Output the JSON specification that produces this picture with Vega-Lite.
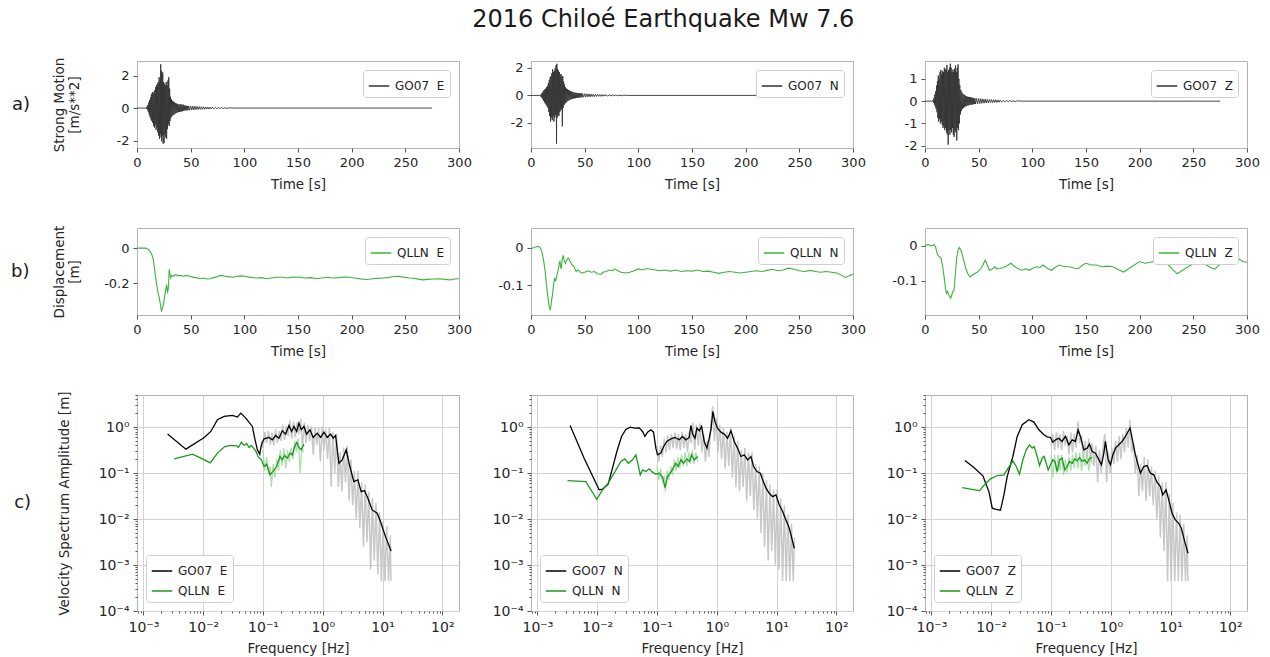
{
"$schema":"https://vega.github.io/schema/vega-lite/v6.json",
"background":"white",
"padding":{"left":10,"top":7,"right":10,"bottom":4},
"title":{"text":"2016 Chiloé Earthquake Mw 7.6","fontSize":24,"fontWeight":"normal","font":"DejaVu Sans","color":"#1a1a1a","anchor":"middle","offset":25,"dx":28},
"config":{
"font":"DejaVu Sans",
"view":{"stroke":"#b3b3b3","strokeWidth":1},
"axis":{"labelFont":"DejaVu Sans","labelFontSize":13,"labelColor":"#262626","titleFont":"DejaVu Sans","titleFontSize":13.5,"titleFontWeight":"normal","titleColor":"#262626","domain":false,"tickColor":"#555555","tickSize":4,"grid":false,"labelPadding":4,"titlePadding":8,"labelFlush":false,"labelOverlap":false},
"legend":{"symbolType":"stroke","symbolSize":420,"symbolStrokeWidth":1.5,"labelFontSize":12,"labelFont":"DejaVu Sans","labelColor":"#222222","fillColor":"white","strokeColor":"#d0d0d0","cornerRadius":3,"padding":5,"labelOffset":5,"rowPadding":3}
},
"datasets":{
"a1":[{"t":0,"v":0},{"t":8,"v":0},{"t":8.6,"v":0.02},{"t":9,"v":-0.05},{"t":9.4,"v":0.1},{"t":9.8,"v":-0.12},{"t":10.2,"v":0.2},{"t":10.6,"v":-0.25},{"t":11,"v":0.35},{"t":11.4,"v":-0.4},{"t":11.8,"v":0.5},{"t":12.2,"v":-0.55},{"t":12.6,"v":0.65},{"t":13,"v":-0.7},{"t":13.4,"v":0.85},{"t":13.8,"v":-0.8},{"t":14.2,"v":0.95},{"t":14.6,"v":-0.9},{"t":15,"v":1.0},{"t":15.4,"v":-1.1},{"t":15.8,"v":0.9},{"t":16.2,"v":-1.2},{"t":16.6,"v":1.1},{"t":17,"v":-1.0},{"t":17.4,"v":1.3},{"t":17.8,"v":-1.35},{"t":18.2,"v":1.4},{"t":18.6,"v":-1.2},{"t":19,"v":1.5},{"t":19.4,"v":-1.5},{"t":19.8,"v":1.6},{"t":20.2,"v":-1.7},{"t":20.6,"v":1.9},{"t":21,"v":-1.9},{"t":21.4,"v":1.7},{"t":21.8,"v":-1.6},{"t":22.1,"v":2.7},{"t":22.4,"v":-1.8},{"t":22.7,"v":2.3},{"t":23,"v":-2.05},{"t":23.3,"v":2.0},{"t":23.6,"v":-1.7},{"t":24,"v":2.2},{"t":24.4,"v":-2.2},{"t":24.8,"v":1.6},{"t":25.2,"v":-2.15},{"t":25.6,"v":1.5},{"t":26,"v":-1.6},{"t":26.4,"v":1.4},{"t":26.8,"v":-1.8},{"t":27.2,"v":1.6},{"t":27.6,"v":-1.9},{"t":28,"v":1.4},{"t":28.4,"v":-1.3},{"t":28.8,"v":1.7},{"t":29.2,"v":-1.0},{"t":29.6,"v":1.9},{"t":30,"v":-1.1},{"t":30.4,"v":1.2},{"t":30.8,"v":-0.8},{"t":31.2,"v":0.7},{"t":31.6,"v":-0.6},{"t":32,"v":0.55},{"t":32.5,"v":-0.5},{"t":33,"v":0.45},{"t":33.5,"v":-0.45},{"t":34,"v":0.4},{"t":34.5,"v":-0.4},{"t":35,"v":0.35},{"t":35.5,"v":-0.35},{"t":36,"v":0.3},{"t":36.5,"v":-0.3},{"t":37,"v":0.28},{"t":37.5,"v":-0.28},{"t":38,"v":0.25},{"t":38.5,"v":-0.25},{"t":39,"v":0.22},{"t":39.5,"v":-0.24},{"t":40,"v":0.22},{"t":40.5,"v":-0.22},{"t":41,"v":0.25},{"t":41.5,"v":-0.2},{"t":42,"v":0.18},{"t":42.5,"v":-0.2},{"t":43,"v":0.22},{"t":43.5,"v":-0.16},{"t":44,"v":0.16},{"t":44.5,"v":-0.15},{"t":45,"v":0.15},{"t":45.5,"v":-0.14},{"t":46,"v":0.14},{"t":46.5,"v":-0.14},{"t":47,"v":0.13},{"t":47.5,"v":-0.13},{"t":48,"v":0.13},{"t":49,"v":-0.13},{"t":50,"v":0.13},{"t":51,"v":-0.12},{"t":52,"v":0.12},{"t":53,"v":-0.11},{"t":54,"v":0.11},{"t":55,"v":-0.1},{"t":56,"v":0.1},{"t":57,"v":-0.09},{"t":58,"v":0.09},{"t":59,"v":-0.085},{"t":60,"v":0.08},{"t":61,"v":-0.075},{"t":62,"v":0.075},{"t":63,"v":-0.07},{"t":64,"v":0.07},{"t":65,"v":-0.065},{"t":66,"v":0.06},{"t":67,"v":-0.06},{"t":68,"v":0.055},{"t":69,"v":-0.05},{"t":70,"v":0.05},{"t":71.5,"v":-0.045},{"t":73,"v":0.04},{"t":74.5,"v":-0.04},{"t":76,"v":0.035},{"t":77.5,"v":-0.03},{"t":79,"v":0.03},{"t":80.5,"v":-0.025},{"t":82,"v":0.02},{"t":84,"v":-0.02},{"t":86,"v":0.015},{"t":90,"v":0},{"t":275,"v":0}],
"a2":[{"t":0,"v":0},{"t":8,"v":0},{"t":8.6,"v":-0.02},{"t":9,"v":0.05},{"t":9.4,"v":-0.1},{"t":9.8,"v":0.12},{"t":10.2,"v":-0.18},{"t":10.6,"v":0.2},{"t":11,"v":-0.28},{"t":11.4,"v":0.3},{"t":11.8,"v":-0.4},{"t":12.2,"v":0.38},{"t":12.6,"v":-0.5},{"t":13,"v":0.45},{"t":13.4,"v":-0.6},{"t":13.8,"v":0.5},{"t":14.2,"v":-0.7},{"t":14.6,"v":0.6},{"t":15,"v":-0.8},{"t":15.4,"v":0.7},{"t":15.8,"v":-0.9},{"t":16.2,"v":0.9},{"t":16.6,"v":-1.2},{"t":17,"v":1.1},{"t":17.4,"v":-1.5},{"t":17.8,"v":1.3},{"t":18.2,"v":-1.9},{"t":18.6,"v":1.4},{"t":19,"v":-1.6},{"t":19.4,"v":1.6},{"t":19.8,"v":-1.8},{"t":20.2,"v":1.9},{"t":20.6,"v":-1.5},{"t":21,"v":1.7},{"t":21.4,"v":-1.9},{"t":21.8,"v":1.8},{"t":22.2,"v":-1.6},{"t":22.6,"v":2.0},{"t":23,"v":-1.4},{"t":23.4,"v":2.2},{"t":23.8,"v":-3.5},{"t":24.1,"v":2.3},{"t":24.4,"v":-1.6},{"t":24.8,"v":1.9},{"t":25.2,"v":-1.4},{"t":25.6,"v":1.8},{"t":26,"v":-1.5},{"t":26.4,"v":1.7},{"t":26.8,"v":-1.2},{"t":27.2,"v":1.5},{"t":27.6,"v":-1.1},{"t":28,"v":1.55},{"t":28.4,"v":-1.0},{"t":28.8,"v":1.3},{"t":29.2,"v":-2.25},{"t":29.6,"v":1.4},{"t":30,"v":-0.9},{"t":30.4,"v":1.0},{"t":30.8,"v":-0.7},{"t":31.2,"v":0.8},{"t":31.6,"v":-0.6},{"t":32,"v":0.6},{"t":32.5,"v":-0.55},{"t":33,"v":0.5},{"t":33.5,"v":-0.45},{"t":34,"v":0.45},{"t":34.5,"v":-0.4},{"t":35,"v":0.4},{"t":35.5,"v":-0.35},{"t":36,"v":0.35},{"t":36.5,"v":-0.3},{"t":37,"v":0.3},{"t":37.5,"v":-0.28},{"t":38,"v":0.28},{"t":38.5,"v":-0.25},{"t":39,"v":0.25},{"t":39.5,"v":-0.22},{"t":40,"v":0.22},{"t":40.5,"v":-0.21},{"t":41,"v":0.2},{"t":41.5,"v":-0.2},{"t":42,"v":0.19},{"t":42.5,"v":-0.18},{"t":43,"v":0.18},{"t":43.5,"v":-0.17},{"t":44,"v":0.17},{"t":44.5,"v":-0.16},{"t":45,"v":0.16},{"t":45.5,"v":-0.15},{"t":46,"v":0.15},{"t":46.5,"v":-0.14},{"t":47,"v":0.14},{"t":47.5,"v":-0.14},{"t":48,"v":0.13},{"t":49,"v":-0.13},{"t":50,"v":0.13},{"t":51,"v":-0.12},{"t":52,"v":0.12},{"t":53,"v":-0.11},{"t":54,"v":0.11},{"t":55,"v":-0.1},{"t":56,"v":0.1},{"t":57,"v":-0.09},{"t":58,"v":0.09},{"t":59,"v":-0.085},{"t":60,"v":0.08},{"t":61,"v":-0.075},{"t":62,"v":0.075},{"t":63,"v":-0.07},{"t":64,"v":0.07},{"t":65,"v":-0.065},{"t":66,"v":0.06},{"t":67,"v":-0.06},{"t":68,"v":0.055},{"t":69,"v":-0.05},{"t":70,"v":0.05},{"t":71.5,"v":-0.045},{"t":73,"v":0.04},{"t":74.5,"v":-0.04},{"t":76,"v":0.035},{"t":77.5,"v":-0.03},{"t":79,"v":0.03},{"t":80.5,"v":-0.025},{"t":82,"v":0.02},{"t":84,"v":-0.02},{"t":86,"v":0.015},{"t":90,"v":0},{"t":275,"v":0}],
"a3":[{"t":0,"v":0},{"t":7,"v":0},{"t":7.6,"v":0.05},{"t":8,"v":-0.08},{"t":8.4,"v":0.15},{"t":8.8,"v":-0.15},{"t":9.2,"v":0.3},{"t":9.6,"v":-0.25},{"t":10,"v":0.45},{"t":10.4,"v":-0.35},{"t":10.8,"v":0.7},{"t":11.2,"v":-0.5},{"t":11.6,"v":0.9},{"t":12,"v":-0.75},{"t":12.4,"v":1.15},{"t":12.8,"v":-0.92},{"t":13.2,"v":1.0},{"t":13.6,"v":-0.8},{"t":14,"v":1.3},{"t":14.4,"v":-1.0},{"t":14.8,"v":1.4},{"t":15.2,"v":-0.9},{"t":15.6,"v":1.2},{"t":16,"v":-1.05},{"t":16.4,"v":1.35},{"t":16.8,"v":-1.2},{"t":17.2,"v":1.3},{"t":17.6,"v":-1.1},{"t":18,"v":1.5},{"t":18.4,"v":-1.3},{"t":18.8,"v":1.4},{"t":19.2,"v":-1.2},{"t":19.6,"v":1.45},{"t":20,"v":-1.4},{"t":20.4,"v":1.62},{"t":20.8,"v":-1.5},{"t":21.2,"v":1.3},{"t":21.6,"v":-1.95},{"t":22,"v":1.4},{"t":22.4,"v":-1.3},{"t":22.8,"v":1.5},{"t":23.2,"v":-1.5},{"t":23.6,"v":1.68},{"t":24,"v":-1.3},{"t":24.4,"v":1.5},{"t":24.8,"v":-1.4},{"t":25.2,"v":1.3},{"t":25.6,"v":-1.2},{"t":26,"v":1.42},{"t":26.4,"v":-1.5},{"t":26.8,"v":1.3},{"t":27.2,"v":-1.6},{"t":27.6,"v":1.45},{"t":28,"v":-1.3},{"t":28.4,"v":1.6},{"t":28.8,"v":-1.4},{"t":29.2,"v":1.3},{"t":29.6,"v":-1.76},{"t":30,"v":1.5},{"t":30.4,"v":-1.2},{"t":30.8,"v":1.65},{"t":31.2,"v":-1.3},{"t":31.6,"v":1.0},{"t":32,"v":-1.0},{"t":32.4,"v":0.73},{"t":32.9,"v":-0.6},{"t":33.4,"v":0.5},{"t":33.9,"v":-0.45},{"t":34.4,"v":0.4},{"t":35,"v":-0.35},{"t":35.5,"v":0.32},{"t":36,"v":-0.3},{"t":36.5,"v":0.29},{"t":37,"v":-0.26},{"t":37.5,"v":0.25},{"t":38,"v":-0.23},{"t":38.5,"v":0.22},{"t":39,"v":-0.21},{"t":39.5,"v":0.2},{"t":40,"v":-0.2},{"t":40.5,"v":0.19},{"t":41,"v":-0.18},{"t":41.5,"v":0.18},{"t":42,"v":-0.17},{"t":42.5,"v":0.17},{"t":43,"v":-0.16},{"t":43.5,"v":0.16},{"t":44,"v":-0.15},{"t":44.5,"v":0.15},{"t":45,"v":-0.14},{"t":45.5,"v":0.14},{"t":46,"v":-0.13},{"t":46.5,"v":0.13},{"t":47,"v":-0.13},{"t":48,"v":0.12},{"t":49,"v":-0.12},{"t":50,"v":0.12},{"t":51,"v":-0.11},{"t":52,"v":0.11},{"t":53,"v":-0.1},{"t":54,"v":0.1},{"t":55,"v":-0.09},{"t":56,"v":0.09},{"t":57,"v":-0.085},{"t":58,"v":0.08},{"t":59,"v":-0.08},{"t":60,"v":0.075},{"t":61,"v":-0.07},{"t":62,"v":0.07},{"t":63,"v":-0.065},{"t":64,"v":0.065},{"t":65,"v":-0.06},{"t":66,"v":0.06},{"t":67,"v":-0.055},{"t":68,"v":0.05},{"t":69,"v":-0.05},{"t":70,"v":0.045},{"t":71.5,"v":-0.045},{"t":73,"v":0.04},{"t":74.5,"v":-0.035},{"t":76,"v":0.035},{"t":77.5,"v":-0.03},{"t":79,"v":0.03},{"t":80.5,"v":-0.025},{"t":82,"v":0.02},{"t":84,"v":-0.02},{"t":86,"v":0.015},{"t":90,"v":0},{"t":275,"v":0}],
"b1":[{"t":0,"v":0},{"t":5,"v":0},{"t":8,"v":0},{"t":10,"v":-0.005},{"t":12,"v":-0.015},{"t":13.7,"v":-0.035},{"t":15,"v":-0.06},{"t":15.8,"v":-0.092},{"t":17,"v":-0.15},{"t":18.3,"v":-0.208},{"t":19.5,"v":-0.25},{"t":20.8,"v":-0.285},{"t":21.8,"v":-0.32},{"t":22.4,"v":-0.345},{"t":23,"v":-0.362},{"t":23.6,"v":-0.34},{"t":24.5,"v":-0.327},{"t":25.2,"v":-0.3},{"t":26,"v":-0.266},{"t":26.8,"v":-0.235},{"t":27.6,"v":-0.208},{"t":28.3,"v":-0.25},{"t":28.9,"v":-0.243},{"t":29.5,"v":-0.2},{"t":30,"v":-0.121},{"t":30.7,"v":-0.15},{"t":31.4,"v":-0.17},{"t":32.5,"v":-0.155},{"t":33.9,"v":-0.16},{"t":36,"v":-0.15},{"t":38,"v":-0.158},{"t":40,"v":-0.155},{"t":43,"v":-0.16},{"t":46,"v":-0.155},{"t":49,"v":-0.16},{"t":52,"v":-0.165},{"t":55,"v":-0.168},{"t":58.7,"v":-0.174},{"t":62,"v":-0.17},{"t":65,"v":-0.176},{"t":68,"v":-0.174},{"t":71,"v":-0.168},{"t":74,"v":-0.165},{"t":76,"v":-0.158},{"t":79,"v":-0.155},{"t":82,"v":-0.16},{"t":85,"v":-0.162},{"t":89.7,"v":-0.166},{"t":93,"v":-0.16},{"t":97,"v":-0.158},{"t":100.6,"v":-0.16},{"t":104,"v":-0.165},{"t":108,"v":-0.168},{"t":111.5,"v":-0.17},{"t":116,"v":-0.168},{"t":120.8,"v":-0.174},{"t":125,"v":-0.17},{"t":130,"v":-0.166},{"t":136,"v":-0.166},{"t":140,"v":-0.17},{"t":145,"v":-0.165},{"t":151.8,"v":-0.166},{"t":156,"v":-0.17},{"t":162,"v":-0.168},{"t":167.3,"v":-0.174},{"t":172,"v":-0.17},{"t":177,"v":-0.166},{"t":182.9,"v":-0.17},{"t":188,"v":-0.168},{"t":193,"v":-0.165},{"t":198.4,"v":-0.166},{"t":203,"v":-0.17},{"t":208,"v":-0.175},{"t":213.9,"v":-0.179},{"t":218,"v":-0.176},{"t":223,"v":-0.172},{"t":229.4,"v":-0.17},{"t":234,"v":-0.168},{"t":238,"v":-0.163},{"t":243.4,"v":-0.16},{"t":248,"v":-0.165},{"t":254.2,"v":-0.17},{"t":259,"v":-0.172},{"t":263,"v":-0.178},{"t":266.6,"v":-0.181},{"t":271,"v":-0.178},{"t":276,"v":-0.176},{"t":282.1,"v":-0.174},{"t":287,"v":-0.178},{"t":291.4,"v":-0.181},{"t":296,"v":-0.176},{"t":300,"v":-0.174}],
"b2":[{"t":0,"v":-0.003},{"t":3,"v":0},{"t":5,"v":0.002},{"t":7,"v":0.003},{"t":8.5,"v":0},{"t":10,"v":-0.01},{"t":11.5,"v":-0.03},{"t":13,"v":-0.06},{"t":14.5,"v":-0.1},{"t":16,"v":-0.14},{"t":17,"v":-0.158},{"t":18,"v":-0.167},{"t":18.8,"v":-0.15},{"t":19.5,"v":-0.135},{"t":20,"v":-0.127},{"t":21,"v":-0.1},{"t":21.5,"v":-0.09},{"t":22,"v":-0.081},{"t":23,"v":-0.09},{"t":24,"v":-0.075},{"t":25,"v":-0.064},{"t":26,"v":-0.05},{"t":26.5,"v":-0.04},{"t":27,"v":-0.037},{"t":27.5,"v":-0.05},{"t":28,"v":-0.057},{"t":29,"v":-0.035},{"t":30,"v":-0.021},{"t":31,"v":-0.035},{"t":32,"v":-0.042},{"t":33,"v":-0.035},{"t":34,"v":-0.03},{"t":35,"v":-0.028},{"t":36,"v":-0.035},{"t":37,"v":-0.04},{"t":38,"v":-0.046},{"t":40,"v":-0.05},{"t":42,"v":-0.064},{"t":44,"v":-0.06},{"t":46,"v":-0.066},{"t":48,"v":-0.068},{"t":50,"v":-0.066},{"t":53,"v":-0.062},{"t":56,"v":-0.066},{"t":59,"v":-0.064},{"t":62,"v":-0.07},{"t":65,"v":-0.072},{"t":67,"v":-0.066},{"t":70,"v":-0.064},{"t":73,"v":-0.06},{"t":76,"v":-0.062},{"t":78,"v":-0.057},{"t":81,"v":-0.062},{"t":84,"v":-0.066},{"t":88,"v":-0.068},{"t":92,"v":-0.066},{"t":96,"v":-0.062},{"t":100,"v":-0.057},{"t":104,"v":-0.06},{"t":108,"v":-0.056},{"t":112,"v":-0.058},{"t":116,"v":-0.06},{"t":120,"v":-0.062},{"t":125,"v":-0.06},{"t":130,"v":-0.063},{"t":135,"v":-0.06},{"t":140,"v":-0.064},{"t":145,"v":-0.062},{"t":150,"v":-0.063},{"t":155,"v":-0.06},{"t":160,"v":-0.064},{"t":165,"v":-0.063},{"t":170,"v":-0.066},{"t":175,"v":-0.069},{"t":180,"v":-0.066},{"t":185,"v":-0.064},{"t":190,"v":-0.066},{"t":195,"v":-0.068},{"t":200,"v":-0.066},{"t":205,"v":-0.064},{"t":210,"v":-0.062},{"t":215,"v":-0.064},{"t":220,"v":-0.061},{"t":225,"v":-0.058},{"t":230,"v":-0.062},{"t":235,"v":-0.06},{"t":240,"v":-0.055},{"t":245,"v":-0.058},{"t":250,"v":-0.062},{"t":255,"v":-0.064},{"t":260,"v":-0.061},{"t":265,"v":-0.064},{"t":270,"v":-0.066},{"t":275,"v":-0.064},{"t":280,"v":-0.066},{"t":285,"v":-0.068},{"t":290,"v":-0.075},{"t":293,"v":-0.08},{"t":296,"v":-0.076},{"t":300,"v":-0.071}],
"b3":[{"t":0,"v":0.002},{"t":3,"v":0.003},{"t":6,"v":0},{"t":8.7,"v":0.003},{"t":10,"v":-0.005},{"t":11.8,"v":-0.026},{"t":13,"v":-0.03},{"t":14.9,"v":-0.035},{"t":16.5,"v":-0.06},{"t":18,"v":-0.093},{"t":19,"v":-0.12},{"t":20,"v":-0.136},{"t":21,"v":-0.13},{"t":22,"v":-0.14},{"t":24,"v":-0.15},{"t":25,"v":-0.14},{"t":26,"v":-0.13},{"t":27,"v":-0.127},{"t":28,"v":-0.093},{"t":29.5,"v":-0.035},{"t":31,"v":-0.01},{"t":32,"v":-0.005},{"t":33,"v":-0.01},{"t":34,"v":-0.017},{"t":36,"v":-0.04},{"t":38,"v":-0.065},{"t":40,"v":-0.08},{"t":42,"v":-0.089},{"t":44,"v":-0.085},{"t":46,"v":-0.08},{"t":49,"v":-0.075},{"t":52,"v":-0.065},{"t":54,"v":-0.055},{"t":56,"v":-0.041},{"t":58,"v":-0.055},{"t":60,"v":-0.07},{"t":62,"v":-0.068},{"t":65,"v":-0.06},{"t":67,"v":-0.066},{"t":70,"v":-0.065},{"t":73,"v":-0.062},{"t":76,"v":-0.058},{"t":80,"v":-0.05},{"t":83,"v":-0.058},{"t":86,"v":-0.064},{"t":90,"v":-0.07},{"t":94,"v":-0.066},{"t":97,"v":-0.07},{"t":100,"v":-0.065},{"t":104,"v":-0.06},{"t":107,"v":-0.062},{"t":110,"v":-0.055},{"t":114,"v":-0.065},{"t":118,"v":-0.07},{"t":121,"v":-0.062},{"t":125,"v":-0.055},{"t":130,"v":-0.06},{"t":135,"v":-0.06},{"t":139,"v":-0.064},{"t":143,"v":-0.065},{"t":147,"v":-0.055},{"t":150,"v":-0.05},{"t":155,"v":-0.055},{"t":160,"v":-0.055},{"t":165,"v":-0.06},{"t":170,"v":-0.058},{"t":175,"v":-0.06},{"t":180,"v":-0.068},{"t":185,"v":-0.075},{"t":190,"v":-0.065},{"t":195,"v":-0.055},{"t":200,"v":-0.045},{"t":205,"v":-0.05},{"t":210,"v":-0.047},{"t":215,"v":-0.043},{"t":220,"v":-0.045},{"t":225,"v":-0.05},{"t":230,"v":-0.065},{"t":235,"v":-0.08},{"t":240,"v":-0.07},{"t":245,"v":-0.06},{"t":250,"v":-0.052},{"t":255,"v":-0.045},{"t":258,"v":-0.05},{"t":262,"v":-0.055},{"t":266,"v":-0.062},{"t":270,"v":-0.067},{"t":274,"v":-0.055},{"t":278,"v":-0.043},{"t":282,"v":-0.048},{"t":285,"v":-0.05},{"t":289,"v":-0.042},{"t":292,"v":-0.037},{"t":296,"v":-0.045},{"t":300,"v":-0.047}],
"c1k":[{"f":0.00253,"a":0.705},{"f":0.00513,"a":0.332},{"f":0.0104,"a":0.596},{"f":0.0134,"a":0.805},{"f":0.0173,"a":1.445},{"f":0.0224,"a":1.706},{"f":0.0308,"a":1.795},{"f":0.0373,"a":1.652},{"f":0.0425,"a":2.018},{"f":0.0514,"a":1.57},{"f":0.0664,"a":1.035},{"f":0.0726,"a":0.575},{"f":0.0805,"a":0.321},{"f":0.0881,"a":0.258},{"f":0.094,"a":0.412},{"f":0.104,"a":0.557},{"f":0.126,"a":0.596},{"f":0.143,"a":0.53},{"f":0.163,"a":0.658},{"f":0.185,"a":0.575},{"f":0.21,"a":0.832},{"f":0.239,"a":0.705},{"f":0.272,"a":1.086},{"f":0.301,"a":0.805},{"f":0.33,"a":1.035},{"f":0.366,"a":0.805},{"f":0.399,"a":1.222},{"f":0.437,"a":0.875},{"f":0.484,"a":1.035},{"f":0.536,"a":0.705},{"f":0.61,"a":0.875},{"f":0.692,"a":0.596},{"f":0.807,"a":0.74},{"f":0.918,"a":0.596},{"f":1.045,"a":0.778},{"f":1.189,"a":0.596},{"f":1.349,"a":0.705},{"f":1.496,"a":0.575},{"f":1.637,"a":0.658},{"f":1.862,"a":0.164},{"f":2.113,"a":0.194},{"f":2.466,"a":0.321},{"f":2.838,"a":0.139},{"f":3.311,"a":0.0655},{"f":3.864,"a":0.0713},{"f":4.385,"a":0.0396},{"f":4.989,"a":0.0417},{"f":5.675,"a":0.0284},{"f":6.699,"a":0.0158},{"f":8.128,"a":0.0134},{"f":9.226,"a":0.00881},{"f":11.19,"a":0.00415},{"f":13.9,"a":0.00202}],
"c1g":[{"f":0.00327,"a":0.204},{"f":0.00662,"a":0.258},{"f":0.00912,"a":0.211},{"f":0.0131,"a":0.167},{"f":0.0173,"a":0.272},{"f":0.0229,"a":0.379},{"f":0.0288,"a":0.399},{"f":0.0363,"a":0.392},{"f":0.0387,"a":0.361},{"f":0.0435,"a":0.471},{"f":0.0482,"a":0.399},{"f":0.0533,"a":0.441},{"f":0.0585,"a":0.361},{"f":0.064,"a":0.399},{"f":0.0755,"a":0.305},{"f":0.0826,"a":0.23},{"f":0.094,"a":0.194},{"f":0.104,"a":0.139},{"f":0.115,"a":0.156},{"f":0.131,"a":0.0916},{"f":0.149,"a":0.112},{"f":0.169,"a":0.139},{"f":0.192,"a":0.23},{"f":0.21,"a":0.194},{"f":0.23,"a":0.242},{"f":0.255,"a":0.211},{"f":0.282,"a":0.272},{"f":0.309,"a":0.249},{"f":0.338,"a":0.379},{"f":0.366,"a":0.463},{"f":0.399,"a":0.361},{"f":0.437,"a":0.321},{"f":0.484,"a":0.427}],
"c1r":[{"f":0.0933,"a":0.501},{"f":0.1,"a":0.355},{"f":0.107,"a":0.794},{"f":0.115,"a":0.447},{"f":0.123,"a":0.832},{"f":0.132,"a":0.417},{"f":0.141,"a":0.759},{"f":0.151,"a":0.398},{"f":0.162,"a":0.891},{"f":0.174,"a":0.447},{"f":0.186,"a":0.832},{"f":0.2,"a":0.501},{"f":0.214,"a":1.122},{"f":0.229,"a":0.525},{"f":0.245,"a":1.047},{"f":0.263,"a":0.631},{"f":0.282,"a":1.413},{"f":0.302,"a":0.562},{"f":0.324,"a":1.318},{"f":0.347,"a":0.603},{"f":0.372,"a":1.259},{"f":0.398,"a":0.708},{"f":0.427,"a":1.514},{"f":0.457,"a":0.355},{"f":0.49,"a":1.259},{"f":0.525,"a":0.447},{"f":0.562,"a":1.122},{"f":0.603,"a":0.501},{"f":0.646,"a":1.047},{"f":0.692,"a":0.251},{"f":0.741,"a":1.0},{"f":0.794,"a":0.417},{"f":0.851,"a":0.955},{"f":0.912,"a":0.178},{"f":0.977,"a":1.047},{"f":1.047,"a":0.316},{"f":1.122,"a":0.891},{"f":1.202,"a":0.2},{"f":1.288,"a":0.955},{"f":1.38,"a":0.0501},{"f":1.479,"a":0.794},{"f":1.585,"a":0.1},{"f":1.698,"a":0.708},{"f":1.82,"a":0.0501},{"f":1.95,"a":0.282},{"f":2.089,"a":0.0398},{"f":2.239,"a":0.355},{"f":2.399,"a":0.0631},{"f":2.57,"a":0.398},{"f":2.754,"a":0.0251},{"f":2.951,"a":0.2},{"f":3.162,"a":0.02},{"f":3.388,"a":0.112},{"f":3.631,"a":0.01},{"f":3.89,"a":0.112},{"f":4.169,"a":0.00631},{"f":4.467,"a":0.0631},{"f":4.786,"a":0.00251},{"f":5.129,"a":0.0562},{"f":5.495,"a":0.00316},{"f":5.888,"a":0.0398},{"f":6.31,"a":0.000794},{"f":6.761,"a":0.0282},{"f":7.244,"a":0.00126},{"f":7.762,"a":0.0224},{"f":8.318,"a":0.000631},{"f":8.913,"a":0.0141},{"f":9.55,"a":0.000447},{"f":10.23,"a":0.00891},{"f":10.96,"a":0.000447},{"f":11.75,"a":0.00708},{"f":12.59,"a":0.000447},{"f":13.49,"a":0.00447},{"f":13.8,"a":0.000447}],
"c1l":[{"f":0.1,"a":0.316},{"f":0.107,"a":0.112},{"f":0.115,"a":0.224},{"f":0.123,"a":0.1},{"f":0.132,"a":0.141},{"f":0.138,"a":0.0501},{"f":0.148,"a":0.158},{"f":0.158,"a":0.0794},{"f":0.17,"a":0.2},{"f":0.182,"a":0.112},{"f":0.195,"a":0.316},{"f":0.209,"a":0.141},{"f":0.224,"a":0.355},{"f":0.24,"a":0.126},{"f":0.257,"a":0.316},{"f":0.275,"a":0.178},{"f":0.295,"a":0.355},{"f":0.316,"a":0.2},{"f":0.339,"a":0.501},{"f":0.363,"a":0.282},{"f":0.389,"a":0.562},{"f":0.417,"a":0.1},{"f":0.447,"a":0.355},{"f":0.479,"a":0.282}],
"c2k":[{"f":0.00352,"a":1.086},{"f":0.00604,"a":0.211},{"f":0.01076,"a":0.0432},{"f":0.01225,"a":0.0446},{"f":0.01524,"a":0.0573},{"f":0.018,"a":0.128},{"f":0.0213,"a":0.295},{"f":0.0255,"a":0.627},{"f":0.0301,"a":0.889},{"f":0.0356,"a":1.0},{"f":0.0426,"a":0.951},{"f":0.0504,"a":0.966},{"f":0.0573,"a":0.805},{"f":0.0627,"a":0.627},{"f":0.0695,"a":0.778},{"f":0.0789,"a":0.875},{"f":0.0875,"a":0.778},{"f":0.0957,"a":0.349},{"f":0.102,"a":0.249},{"f":0.116,"a":0.272},{"f":0.129,"a":0.379},{"f":0.146,"a":0.488},{"f":0.171,"a":0.557},{"f":0.199,"a":0.596},{"f":0.236,"a":0.53},{"f":0.267,"a":0.627},{"f":0.304,"a":0.53},{"f":0.346,"a":0.596},{"f":0.369,"a":1.086},{"f":0.394,"a":0.705},{"f":0.431,"a":0.575},{"f":0.465,"a":0.951},{"f":0.509,"a":0.832},{"f":0.557,"a":1.035},{"f":0.617,"a":0.488},{"f":0.684,"a":0.349},{"f":0.748,"a":0.575},{"f":0.798,"a":0.875},{"f":0.861,"a":2.193},{"f":0.931,"a":1.327},{"f":1.03,"a":0.951},{"f":1.172,"a":0.778},{"f":1.334,"a":0.705},{"f":1.517,"a":0.575},{"f":1.726,"a":0.832},{"f":1.959,"a":0.488},{"f":2.228,"a":0.349},{"f":2.535,"a":0.23},{"f":2.884,"a":0.249},{"f":3.281,"a":0.194},{"f":3.724,"a":0.23},{"f":4.13,"a":0.139},{"f":4.699,"a":0.108},{"f":5.346,"a":0.0995},{"f":5.848,"a":0.0713},{"f":6.653,"a":0.0469},{"f":7.551,"a":0.0365},{"f":8.59,"a":0.0308},{"f":9.772,"a":0.0336},{"f":11.12,"a":0.0203},{"f":12.65,"a":0.0146},{"f":14.35,"a":0.00957},{"f":16.33,"a":0.00631},{"f":19.82,"a":0.00231}],
"c2g":[{"f":0.00318,"a":0.0689},{"f":0.00644,"a":0.0655},{"f":0.00984,"a":0.027},{"f":0.01225,"a":0.0432},{"f":0.01524,"a":0.0603},{"f":0.0192,"a":0.0995},{"f":0.0248,"a":0.179},{"f":0.029,"a":0.204},{"f":0.033,"a":0.164},{"f":0.0389,"a":0.194},{"f":0.0443,"a":0.249},{"f":0.0484,"a":0.151},{"f":0.0524,"a":0.0916},{"f":0.0573,"a":0.117},{"f":0.0652,"a":0.108},{"f":0.074,"a":0.124},{"f":0.0841,"a":0.105},{"f":0.0957,"a":0.0946},{"f":0.109,"a":0.0995},{"f":0.124,"a":0.08},{"f":0.136,"a":0.0485},{"f":0.15,"a":0.0841},{"f":0.171,"a":0.105},{"f":0.189,"a":0.132},{"f":0.207,"a":0.164},{"f":0.226,"a":0.139},{"f":0.251,"a":0.194},{"f":0.278,"a":0.164},{"f":0.316,"a":0.204},{"f":0.351,"a":0.179},{"f":0.378,"a":0.249},{"f":0.42,"a":0.194},{"f":0.478,"a":0.23}],
"c2r":[{"f":0.1,"a":0.398},{"f":0.107,"a":0.178},{"f":0.115,"a":0.398},{"f":0.123,"a":0.224},{"f":0.132,"a":0.562},{"f":0.141,"a":0.282},{"f":0.151,"a":0.661},{"f":0.162,"a":0.316},{"f":0.174,"a":0.708},{"f":0.186,"a":0.355},{"f":0.2,"a":0.759},{"f":0.214,"a":0.331},{"f":0.229,"a":0.708},{"f":0.245,"a":0.316},{"f":0.263,"a":0.794},{"f":0.282,"a":0.355},{"f":0.302,"a":0.708},{"f":0.324,"a":0.282},{"f":0.347,"a":0.794},{"f":0.372,"a":0.447},{"f":0.398,"a":1.259},{"f":0.427,"a":0.316},{"f":0.457,"a":1.122},{"f":0.49,"a":0.398},{"f":0.525,"a":1.202},{"f":0.562,"a":0.282},{"f":0.603,"a":0.708},{"f":0.646,"a":0.178},{"f":0.692,"a":0.501},{"f":0.741,"a":0.224},{"f":0.794,"a":1.122},{"f":0.851,"a":2.818},{"f":0.912,"a":0.501},{"f":0.977,"a":1.585},{"f":1.047,"a":0.282},{"f":1.122,"a":1.122},{"f":1.202,"a":0.2},{"f":1.288,"a":0.955},{"f":1.38,"a":0.126},{"f":1.479,"a":0.794},{"f":1.585,"a":0.141},{"f":1.698,"a":1.0},{"f":1.82,"a":0.0794},{"f":1.95,"a":0.631},{"f":2.089,"a":0.0501},{"f":2.239,"a":0.501},{"f":2.399,"a":0.0398},{"f":2.57,"a":0.316},{"f":2.754,"a":0.0501},{"f":2.951,"a":0.355},{"f":3.162,"a":0.0251},{"f":3.388,"a":0.282},{"f":3.631,"a":0.0316},{"f":3.89,"a":0.282},{"f":4.169,"a":0.0158},{"f":4.467,"a":0.158},{"f":4.786,"a":0.01},{"f":5.129,"a":0.141},{"f":5.495,"a":0.00501},{"f":5.888,"a":0.1},{"f":6.31,"a":0.00251},{"f":6.761,"a":0.0708},{"f":7.244,"a":0.00126},{"f":7.762,"a":0.0562},{"f":8.318,"a":0.002},{"f":8.913,"a":0.0447},{"f":9.55,"a":0.001},{"f":10.23,"a":0.0447},{"f":10.96,"a":0.000794},{"f":11.75,"a":0.0282},{"f":12.59,"a":0.000447},{"f":13.49,"a":0.02},{"f":14.45,"a":0.000447},{"f":15.49,"a":0.0126},{"f":16.6,"a":0.000447},{"f":17.78,"a":0.00794},{"f":19.05,"a":0.000447},{"f":19.95,"a":0.00398}],
"c2l":[{"f":0.1,"a":0.141},{"f":0.107,"a":0.0708},{"f":0.115,"a":0.126},{"f":0.123,"a":0.0631},{"f":0.132,"a":0.0891},{"f":0.138,"a":0.0398},{"f":0.148,"a":0.112},{"f":0.158,"a":0.0708},{"f":0.17,"a":0.141},{"f":0.182,"a":0.0891},{"f":0.195,"a":0.2},{"f":0.209,"a":0.112},{"f":0.224,"a":0.224},{"f":0.24,"a":0.126},{"f":0.257,"a":0.251},{"f":0.275,"a":0.141},{"f":0.295,"a":0.282},{"f":0.316,"a":0.141},{"f":0.339,"a":0.282},{"f":0.363,"a":0.158},{"f":0.389,"a":0.316},{"f":0.417,"a":0.158},{"f":0.447,"a":0.282},{"f":0.479,"a":0.178}],
"c3k":[{"f":0.00363,"a":0.188},{"f":0.00513,"a":0.132},{"f":0.00726,"a":0.0871},{"f":0.00914,"a":0.0396},{"f":0.0104,"a":0.0172},{"f":0.0121,"a":0.0163},{"f":0.0143,"a":0.0156},{"f":0.0163,"a":0.0336},{"f":0.0185,"a":0.0841},{"f":0.023,"a":0.23},{"f":0.0272,"a":0.627},{"f":0.033,"a":1.125},{"f":0.0426,"a":1.445},{"f":0.0516,"a":1.285},{"f":0.0627,"a":0.875},{"f":0.0759,"a":0.681},{"f":0.0863,"a":0.615},{"f":0.0981,"a":0.596},{"f":0.107,"a":0.471},{"f":0.119,"a":0.53},{"f":0.135,"a":0.575},{"f":0.153,"a":0.488},{"f":0.175,"a":0.627},{"f":0.199,"a":0.412},{"f":0.226,"a":0.53},{"f":0.256,"a":0.488},{"f":0.284,"a":0.875},{"f":0.311,"a":0.627},{"f":0.354,"a":0.321},{"f":0.402,"a":0.349},{"f":0.44,"a":0.427},{"f":0.488,"a":0.295},{"f":0.555,"a":0.272},{"f":0.614,"a":0.211},{"f":0.698,"a":0.151},{"f":0.764,"a":0.272},{"f":0.815,"a":0.488},{"f":0.904,"a":0.194},{"f":0.989,"a":0.151},{"f":1.081,"a":0.249},{"f":1.199,"a":0.349},{"f":1.361,"a":0.412},{"f":1.549,"a":0.488},{"f":1.758,"a":0.627},{"f":1.95,"a":0.805},{"f":2.104,"a":0.951},{"f":2.27,"a":0.575},{"f":2.582,"a":0.249},{"f":2.864,"a":0.151},{"f":3.133,"a":0.0995},{"f":3.565,"a":0.139},{"f":4.046,"a":0.146},{"f":4.603,"a":0.0995},{"f":5.236,"a":0.0916},{"f":5.943,"a":0.0634},{"f":6.761,"a":0.0509},{"f":7.396,"a":0.0336},{"f":8.414,"a":0.0432},{"f":9.333,"a":0.0261},{"f":10.59,"a":0.0134},{"f":12.05,"a":0.00957},{"f":13.71,"a":0.00809},{"f":15.17,"a":0.00631},{"f":17.26,"a":0.00323},{"f":19.59,"a":0.0018}],
"c3g":[{"f":0.00327,"a":0.0485},{"f":0.00452,"a":0.0446},{"f":0.00638,"a":0.0417},{"f":0.00783,"a":0.0573},{"f":0.00975,"a":0.0748},{"f":0.0126,"a":0.0885},{"f":0.0163,"a":0.0916},{"f":0.0192,"a":0.128},{"f":0.023,"a":0.185},{"f":0.0262,"a":0.139},{"f":0.0297,"a":0.0946},{"f":0.0338,"a":0.194},{"f":0.0385,"a":0.321},{"f":0.0437,"a":0.412},{"f":0.0484,"a":0.349},{"f":0.0524,"a":0.379},{"f":0.0588,"a":0.23},{"f":0.0643,"a":0.146},{"f":0.0711,"a":0.211},{"f":0.0769,"a":0.23},{"f":0.083,"a":0.164},{"f":0.0897,"a":0.117},{"f":0.0981,"a":0.151},{"f":0.107,"a":0.194},{"f":0.116,"a":0.179},{"f":0.127,"a":0.108},{"f":0.139,"a":0.194},{"f":0.153,"a":0.211},{"f":0.17,"a":0.117},{"f":0.186,"a":0.139},{"f":0.204,"a":0.179},{"f":0.226,"a":0.164},{"f":0.25,"a":0.204},{"f":0.274,"a":0.185},{"f":0.299,"a":0.218},{"f":0.332,"a":0.179},{"f":0.367,"a":0.194},{"f":0.402,"a":0.164},{"f":0.44,"a":0.211},{"f":0.488,"a":0.218}],
"c3r":[{"f":0.1,"a":0.398},{"f":0.107,"a":0.708},{"f":0.115,"a":0.316},{"f":0.123,"a":0.759},{"f":0.132,"a":0.355},{"f":0.141,"a":0.708},{"f":0.151,"a":0.316},{"f":0.162,"a":0.832},{"f":0.174,"a":0.398},{"f":0.186,"a":0.631},{"f":0.2,"a":0.251},{"f":0.214,"a":0.759},{"f":0.229,"a":0.282},{"f":0.245,"a":0.708},{"f":0.263,"a":0.355},{"f":0.282,"a":1.318},{"f":0.302,"a":0.447},{"f":0.324,"a":0.631},{"f":0.347,"a":0.2},{"f":0.372,"a":0.501},{"f":0.398,"a":0.2},{"f":0.427,"a":0.562},{"f":0.457,"a":0.178},{"f":0.49,"a":0.447},{"f":0.525,"a":0.141},{"f":0.562,"a":0.398},{"f":0.603,"a":0.0631},{"f":0.646,"a":0.316},{"f":0.692,"a":0.1},{"f":0.741,"a":0.355},{"f":0.794,"a":0.708},{"f":0.851,"a":0.0631},{"f":0.912,"a":0.282},{"f":0.977,"a":0.1},{"f":1.047,"a":0.355},{"f":1.122,"a":0.158},{"f":1.202,"a":0.501},{"f":1.288,"a":0.178},{"f":1.38,"a":0.631},{"f":1.479,"a":0.2},{"f":1.585,"a":0.708},{"f":1.698,"a":0.282},{"f":1.82,"a":1.0},{"f":1.95,"a":0.355},{"f":2.089,"a":1.413},{"f":2.239,"a":0.282},{"f":2.399,"a":0.447},{"f":2.57,"a":0.1},{"f":2.754,"a":0.251},{"f":2.951,"a":0.0316},{"f":3.162,"a":0.158},{"f":3.388,"a":0.0398},{"f":3.631,"a":0.224},{"f":3.89,"a":0.0251},{"f":4.169,"a":0.2},{"f":4.467,"a":0.0316},{"f":4.786,"a":0.141},{"f":5.129,"a":0.02},{"f":5.495,"a":0.112},{"f":5.888,"a":0.01},{"f":6.31,"a":0.0891},{"f":6.761,"a":0.00398},{"f":7.244,"a":0.0631},{"f":7.762,"a":0.002},{"f":8.318,"a":0.0631},{"f":8.913,"a":0.000447},{"f":9.55,"a":0.0355},{"f":10.23,"a":0.000447},{"f":10.96,"a":0.0224},{"f":11.75,"a":0.000447},{"f":12.59,"a":0.0141},{"f":13.49,"a":0.000447},{"f":14.45,"a":0.0126},{"f":15.49,"a":0.000447},{"f":16.6,"a":0.00794},{"f":17.78,"a":0.000447},{"f":19.05,"a":0.00447},{"f":19.5,"a":0.000447}],
"c3l":[{"f":0.1,"a":0.251},{"f":0.107,"a":0.0794},{"f":0.115,"a":0.251},{"f":0.123,"a":0.1},{"f":0.132,"a":0.251},{"f":0.141,"a":0.112},{"f":0.151,"a":0.251},{"f":0.162,"a":0.0891},{"f":0.174,"a":0.2},{"f":0.186,"a":0.1},{"f":0.2,"a":0.224},{"f":0.214,"a":0.112},{"f":0.229,"a":0.251},{"f":0.245,"a":0.126},{"f":0.263,"a":0.282},{"f":0.282,"a":0.126},{"f":0.302,"a":0.282},{"f":0.324,"a":0.112},{"f":0.347,"a":0.251},{"f":0.372,"a":0.141},{"f":0.398,"a":0.282},{"f":0.427,"a":0.112},{"f":0.457,"a":0.251},{"f":0.49,"a":0.158}]
},
"columns":3,
"spacing":{"row":80,"column":72},
"bounds":"flush",
"resolve":{"scale":{"x":"independent","y":"independent","color":"independent"},"legend":{"color":"independent"},"axis":{"x":"independent","y":"independent"}},
"concat":[
{"width":322,"height":87,"title":{"text":"a)","orient":"left","angle":0,"anchor":"middle","align":"right","baseline":"middle","fontSize":18,"fontWeight":"normal","color":"#1a1a1a","offset":4},
"data":{"name":"a1"},"mark":{"type":"line","strokeWidth":0.9,"clip":true},
"encoding":{"x":{"field":"t","type":"quantitative","scale":{"domain":[0,300],"nice":false,"zero":false},"axis":{"title":"Time [s]","values":[0,50,100,150,200,250,300]}},
"y":{"field":"v","type":"quantitative","scale":{"domain":[-2.46,2.9],"nice":false,"zero":false},"axis":{"title":["Strong Motion","[m/s**2]"],"values":[-2,0,2],"labelExpr":"'' + datum.value","titleX":-85,"titleY":43.5,"titleAngle":270,"titleAlign":"center","titleBaseline":"top","titleLineHeight":15}},
"color":{"datum":"GO07\u00a0\u00a0E","type":"nominal","scale":{"range":["#333333"]},"legend":{"title":null,"orient":"top-right","offset":9}}}},
{"width":322,"height":87,"data":{"name":"a2"},"mark":{"type":"line","strokeWidth":0.9,"clip":true},
"encoding":{"x":{"field":"t","type":"quantitative","scale":{"domain":[0,300],"nice":false,"zero":false},"axis":{"title":"Time [s]","values":[0,50,100,150,200,250,300]}},
"y":{"field":"v","type":"quantitative","scale":{"domain":[-3.82,2.5],"nice":false,"zero":false},"axis":{"title":null,"values":[-2,0,2],"labelExpr":"'' + datum.value"}},
"color":{"datum":"GO07\u00a0\u00a0N","type":"nominal","scale":{"range":["#333333"]},"legend":{"title":null,"orient":"top-right","offset":9}}}},
{"width":322,"height":87,"data":{"name":"a3"},"mark":{"type":"line","strokeWidth":0.9,"clip":true},
"encoding":{"x":{"field":"t","type":"quantitative","scale":{"domain":[0,300],"nice":false,"zero":false},"axis":{"title":"Time [s]","values":[0,50,100,150,200,250,300]}},
"y":{"field":"v","type":"quantitative","scale":{"domain":[-2.1,1.8],"nice":false,"zero":false},"axis":{"title":null,"values":[-2,-1,0,1],"labelExpr":"'' + datum.value"}},
"color":{"datum":"GO07\u00a0\u00a0Z","type":"nominal","scale":{"range":["#333333"]},"legend":{"title":null,"orient":"top-right","offset":9}}}},
{"width":322,"height":87,"title":{"text":"b)","orient":"left","angle":0,"anchor":"middle","align":"right","baseline":"middle","fontSize":18,"fontWeight":"normal","color":"#1a1a1a","offset":4},
"data":{"name":"b1"},"mark":{"type":"line","strokeWidth":1.1,"clip":true},
"encoding":{"x":{"field":"t","type":"quantitative","scale":{"domain":[0,300],"nice":false,"zero":false},"axis":{"title":"Time [s]","values":[0,50,100,150,200,250,300]}},
"y":{"field":"v","type":"quantitative","scale":{"domain":[-0.381,0.115],"nice":false,"zero":false},"axis":{"title":["Displacement","[m]"],"values":[-0.2,0],"labelExpr":"'' + datum.value","titleX":-85,"titleY":43.5,"titleAngle":270,"titleAlign":"center","titleBaseline":"top","titleLineHeight":15}},
"color":{"datum":"QLLN\u00a0\u00a0E","type":"nominal","scale":{"range":["#3cb43c"]},"legend":{"title":null,"orient":"top-right","offset":9}}}},
{"width":322,"height":87,"data":{"name":"b2"},"mark":{"type":"line","strokeWidth":1.1,"clip":true},
"encoding":{"x":{"field":"t","type":"quantitative","scale":{"domain":[0,300],"nice":false,"zero":false},"axis":{"title":"Time [s]","values":[0,50,100,150,200,250,300]}},
"y":{"field":"v","type":"quantitative","scale":{"domain":[-0.18,0.052],"nice":false,"zero":false},"axis":{"title":null,"values":[-0.1,0],"labelExpr":"'' + datum.value"}},
"color":{"datum":"QLLN\u00a0\u00a0N","type":"nominal","scale":{"range":["#3cb43c"]},"legend":{"title":null,"orient":"top-right","offset":9}}}},
{"width":322,"height":87,"data":{"name":"b3"},"mark":{"type":"line","strokeWidth":1.1,"clip":true},
"encoding":{"x":{"field":"t","type":"quantitative","scale":{"domain":[0,300],"nice":false,"zero":false},"axis":{"title":"Time [s]","values":[0,50,100,150,200,250,300]}},
"y":{"field":"v","type":"quantitative","scale":{"domain":[-0.198,0.051],"nice":false,"zero":false},"axis":{"title":null,"values":[-0.2,-0.1,0],"labelExpr":"'' + datum.value"}},
"color":{"datum":"QLLN\u00a0\u00a0Z","type":"nominal","scale":{"range":["#3cb43c"]},"legend":{"title":null,"orient":"top-right","offset":9}}}},
{"width":322,"height":216,"title":{"text":"c)","orient":"left","angle":0,"anchor":"middle","align":"right","baseline":"middle","fontSize":18,"fontWeight":"normal","color":"#1a1a1a","offset":9},
"encoding":{"x":{"field":"f","type":"quantitative","scale":{"type":"log","domain":[0.00078,190],"nice":false},"axis":{"title":"Frequency [Hz]","values":[0.0008,0.0009,0.001,0.002,0.003,0.004,0.005,0.006,0.007,0.008,0.009,0.01,0.02,0.03,0.04,0.05,0.06,0.07,0.08,0.09,0.1,0.2,0.3,0.4,0.5,0.6,0.7,0.8,0.9,1,2,3,4,5,6,7,8,9,10,20,30,40,50,60,70,80,90,100],"labelExpr":"abs(log(datum.value)/LN10 - round(log(datum.value)/LN10)) > 0.001 ? '' : '10' + replace(replace(replace(replace(replace(replace(''+round(log(datum.value)/LN10),'-','⁻'),'0','⁰'),'1','¹'),'2','²'),'3','³'),'4','⁴')","labelFontSize":14,"labelPadding":5,"grid":true,"gridColor":"#d3d3d3","gridOpacity":{"condition":{"test":"abs(log(datum.value)/LN10 - round(log(datum.value)/LN10)) > 0.001","value":0},"value":1},"tickSize":{"condition":{"test":"abs(log(datum.value)/LN10 - round(log(datum.value)/LN10)) > 0.001","value":2},"value":4},"titlePadding":7}},
"y":{"field":"a","type":"quantitative","scale":{"type":"log","domain":[0.0001,5],"nice":false},"axis":{"title":"Velocity Spectrum Amplitude [m]","values":[0.0001,0.0002,0.0003,0.0004,0.0005,0.0006,0.0007,0.0008,0.0009,0.001,0.002,0.003,0.004,0.005,0.006,0.007,0.008,0.009,0.01,0.02,0.03,0.04,0.05,0.06,0.07,0.08,0.09,0.1,0.2,0.3,0.4,0.5,0.6,0.7,0.8,0.9,1,2,3,4,5],"labelExpr":"abs(log(datum.value)/LN10 - round(log(datum.value)/LN10)) > 0.001 ? '' : '10' + replace(replace(replace(replace(replace(replace(''+round(log(datum.value)/LN10),'-','⁻'),'0','⁰'),'1','¹'),'2','²'),'3','³'),'4','⁴')","labelFontSize":14,"grid":true,"gridColor":"#d3d3d3","gridOpacity":{"condition":{"test":"abs(log(datum.value)/LN10 - round(log(datum.value)/LN10)) > 0.001","value":0},"value":1},"tickSize":{"condition":{"test":"abs(log(datum.value)/LN10 - round(log(datum.value)/LN10)) > 0.001","value":2},"value":4},"titleX":-80,"titleY":108,"titleAngle":270,"titleAlign":"center","titleBaseline":"top"}}},
"layer":[
{"data":{"name":"c1r"},"mark":{"type":"line","color":"#c2c2c2","strokeWidth":1.5,"opacity":0.9,"clip":true}},
{"data":{"name":"c1l"},"mark":{"type":"line","color":"#9ad69a","strokeWidth":1.3,"opacity":0.8,"clip":true}},
{"data":{"name":"c1k"},"mark":{"type":"line","strokeWidth":1.3,"clip":true},"encoding":{"color":{"datum":"GO07\u00a0\u00a0E","type":"nominal","scale":{"domain":["GO07\u00a0\u00a0E","QLLN\u00a0\u00a0E"],"range":["#000000","#1a9a1a"]},"legend":{"title":null,"orient":"bottom-left","offset":9}}}},
{"data":{"name":"c1g"},"mark":{"type":"line","strokeWidth":1.3,"clip":true},"encoding":{"color":{"datum":"QLLN\u00a0\u00a0E","type":"nominal"}}}
]},
{"width":322,"height":216,
"encoding":{"x":{"field":"f","type":"quantitative","scale":{"type":"log","domain":[0.00078,190],"nice":false},"axis":{"title":"Frequency [Hz]","values":[0.0008,0.0009,0.001,0.002,0.003,0.004,0.005,0.006,0.007,0.008,0.009,0.01,0.02,0.03,0.04,0.05,0.06,0.07,0.08,0.09,0.1,0.2,0.3,0.4,0.5,0.6,0.7,0.8,0.9,1,2,3,4,5,6,7,8,9,10,20,30,40,50,60,70,80,90,100],"labelExpr":"abs(log(datum.value)/LN10 - round(log(datum.value)/LN10)) > 0.001 ? '' : '10' + replace(replace(replace(replace(replace(replace(''+round(log(datum.value)/LN10),'-','⁻'),'0','⁰'),'1','¹'),'2','²'),'3','³'),'4','⁴')","labelFontSize":14,"labelPadding":5,"grid":true,"gridColor":"#d3d3d3","gridOpacity":{"condition":{"test":"abs(log(datum.value)/LN10 - round(log(datum.value)/LN10)) > 0.001","value":0},"value":1},"tickSize":{"condition":{"test":"abs(log(datum.value)/LN10 - round(log(datum.value)/LN10)) > 0.001","value":2},"value":4},"titlePadding":7}},
"y":{"field":"a","type":"quantitative","scale":{"type":"log","domain":[0.0001,5],"nice":false},"axis":{"title":null,"values":[0.0001,0.0002,0.0003,0.0004,0.0005,0.0006,0.0007,0.0008,0.0009,0.001,0.002,0.003,0.004,0.005,0.006,0.007,0.008,0.009,0.01,0.02,0.03,0.04,0.05,0.06,0.07,0.08,0.09,0.1,0.2,0.3,0.4,0.5,0.6,0.7,0.8,0.9,1,2,3,4,5],"labelExpr":"abs(log(datum.value)/LN10 - round(log(datum.value)/LN10)) > 0.001 ? '' : '10' + replace(replace(replace(replace(replace(replace(''+round(log(datum.value)/LN10),'-','⁻'),'0','⁰'),'1','¹'),'2','²'),'3','³'),'4','⁴')","labelFontSize":14,"grid":true,"gridColor":"#d3d3d3","gridOpacity":{"condition":{"test":"abs(log(datum.value)/LN10 - round(log(datum.value)/LN10)) > 0.001","value":0},"value":1},"tickSize":{"condition":{"test":"abs(log(datum.value)/LN10 - round(log(datum.value)/LN10)) > 0.001","value":2},"value":4}}}},
"layer":[
{"data":{"name":"c2r"},"mark":{"type":"line","color":"#c2c2c2","strokeWidth":1.5,"opacity":0.9,"clip":true}},
{"data":{"name":"c2l"},"mark":{"type":"line","color":"#9ad69a","strokeWidth":1.3,"opacity":0.8,"clip":true}},
{"data":{"name":"c2k"},"mark":{"type":"line","strokeWidth":1.3,"clip":true},"encoding":{"color":{"datum":"GO07\u00a0\u00a0N","type":"nominal","scale":{"domain":["GO07\u00a0\u00a0N","QLLN\u00a0\u00a0N"],"range":["#000000","#1a9a1a"]},"legend":{"title":null,"orient":"bottom-left","offset":9}}}},
{"data":{"name":"c2g"},"mark":{"type":"line","strokeWidth":1.3,"clip":true},"encoding":{"color":{"datum":"QLLN\u00a0\u00a0N","type":"nominal"}}}
]},
{"width":322,"height":216,
"encoding":{"x":{"field":"f","type":"quantitative","scale":{"type":"log","domain":[0.00078,190],"nice":false},"axis":{"title":"Frequency [Hz]","values":[0.0008,0.0009,0.001,0.002,0.003,0.004,0.005,0.006,0.007,0.008,0.009,0.01,0.02,0.03,0.04,0.05,0.06,0.07,0.08,0.09,0.1,0.2,0.3,0.4,0.5,0.6,0.7,0.8,0.9,1,2,3,4,5,6,7,8,9,10,20,30,40,50,60,70,80,90,100],"labelExpr":"abs(log(datum.value)/LN10 - round(log(datum.value)/LN10)) > 0.001 ? '' : '10' + replace(replace(replace(replace(replace(replace(''+round(log(datum.value)/LN10),'-','⁻'),'0','⁰'),'1','¹'),'2','²'),'3','³'),'4','⁴')","labelFontSize":14,"labelPadding":5,"grid":true,"gridColor":"#d3d3d3","gridOpacity":{"condition":{"test":"abs(log(datum.value)/LN10 - round(log(datum.value)/LN10)) > 0.001","value":0},"value":1},"tickSize":{"condition":{"test":"abs(log(datum.value)/LN10 - round(log(datum.value)/LN10)) > 0.001","value":2},"value":4},"titlePadding":7}},
"y":{"field":"a","type":"quantitative","scale":{"type":"log","domain":[0.0001,5],"nice":false},"axis":{"title":null,"values":[0.0001,0.0002,0.0003,0.0004,0.0005,0.0006,0.0007,0.0008,0.0009,0.001,0.002,0.003,0.004,0.005,0.006,0.007,0.008,0.009,0.01,0.02,0.03,0.04,0.05,0.06,0.07,0.08,0.09,0.1,0.2,0.3,0.4,0.5,0.6,0.7,0.8,0.9,1,2,3,4,5],"labelExpr":"abs(log(datum.value)/LN10 - round(log(datum.value)/LN10)) > 0.001 ? '' : '10' + replace(replace(replace(replace(replace(replace(''+round(log(datum.value)/LN10),'-','⁻'),'0','⁰'),'1','¹'),'2','²'),'3','³'),'4','⁴')","labelFontSize":14,"grid":true,"gridColor":"#d3d3d3","gridOpacity":{"condition":{"test":"abs(log(datum.value)/LN10 - round(log(datum.value)/LN10)) > 0.001","value":0},"value":1},"tickSize":{"condition":{"test":"abs(log(datum.value)/LN10 - round(log(datum.value)/LN10)) > 0.001","value":2},"value":4}}}},
"layer":[
{"data":{"name":"c3r"},"mark":{"type":"line","color":"#c2c2c2","strokeWidth":1.5,"opacity":0.9,"clip":true}},
{"data":{"name":"c3l"},"mark":{"type":"line","color":"#9ad69a","strokeWidth":1.3,"opacity":0.8,"clip":true}},
{"data":{"name":"c3k"},"mark":{"type":"line","strokeWidth":1.3,"clip":true},"encoding":{"color":{"datum":"GO07\u00a0\u00a0Z","type":"nominal","scale":{"domain":["GO07\u00a0\u00a0Z","QLLN\u00a0\u00a0Z"],"range":["#000000","#1a9a1a"]},"legend":{"title":null,"orient":"bottom-left","offset":9}}}},
{"data":{"name":"c3g"},"mark":{"type":"line","strokeWidth":1.3,"clip":true},"encoding":{"color":{"datum":"QLLN\u00a0\u00a0Z","type":"nominal"}}}
]}
]
}
